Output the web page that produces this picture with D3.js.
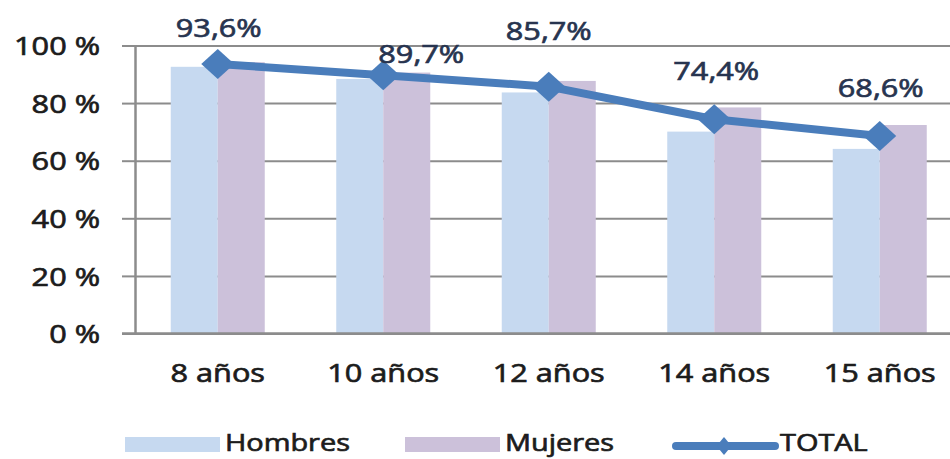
<!DOCTYPE html>
<html>
<head>
<meta charset="utf-8">
<script src="https://cdn.jsdelivr.net/npm/d3@7"></script>
<style>
  html, body { margin: 0; padding: 0; background: #fff; }
  svg { display: block; }
  text { font-family: "Open Sans", "DejaVu Sans", sans-serif; font-weight: 400; stroke-width: 0.7px; }
</style>
</head>
<body>
<svg id="chart" width="950" height="459"></svg>
<script>
// Percentage by age group
const categories = ["8 años", "10 años", "12 años", "14 años", "15 años"];
const hombres = [92.6, 88.4, 83.7, 70.1, 64.1];
const mujeres = [94.2, 90.6, 87.7, 78.5, 72.4];
const total = [93.6, 89.7, 85.7, 74.4, 68.6];
const yTicks = [0, 20, 40, 60, 80, 100];
const seriesNames = ["Hombres", "Mujeres", "TOTAL"];

// Layout
const W = 950, H = 459;
const plot = { left: 135, right: 962.5, top: 45.5, bottom: 333.5 };
const colors = { Hombres: "#c6d9f0", Mujeres: "#ccc1da", TOTAL: "#4a7dbb" };
const gridColor = "#8c8c8c";
const textColor = "#1c1c1c";
const labelColor = "#27344f";
const stretch = 1.18;              // horizontal widening of all text
// Data-label nudges (dx, dy of baseline) relative to each point
const labelNudge = [[1, -27], [38, -12], [0, -47], [2, -39], [1, -39]];

const svg = d3.select("#chart");

const x = d3.scaleBand().domain(categories)
  .range([plot.left, plot.right]).paddingInner(0.432).paddingOuter(0.216);
const xs = d3.scaleBand().domain(["Hombres", "Mujeres"]).range([0, x.bandwidth()]);
const y = d3.scaleLinear().domain([0, 100]).range([plot.bottom, plot.top]);

// Gridlines
const grid = svg.append("g")
  .attr("transform", `translate(${plot.left},0)`)
  .call(d3.axisLeft(y).tickValues(yTicks).tickSize(-(plot.right - plot.left)).tickFormat(""));
grid.select(".domain").remove();
grid.selectAll("line").attr("stroke", gridColor).attr("stroke-width", 2);

// Bars
const rows = categories.map((c, i) => ({ c, Hombres: hombres[i], Mujeres: mujeres[i] }));
const groups = svg.append("g").selectAll("g").data(rows).join("g")
  .attr("transform", d => `translate(${x(d.c)},0)`);
groups.selectAll("rect")
  .data(d => ["Hombres", "Mujeres"].map(k => ({ k, v: d[k] })))
  .join("rect")
  .attr("x", d => xs(d.k))
  .attr("width", xs.bandwidth())
  .attr("y", d => y(d.v))
  .attr("height", d => y(0) - y(d.v))
  .attr("fill", d => colors[d.k]);

// Y axis with ticks and labels
const yAxis = svg.append("g")
  .attr("transform", `translate(${plot.left},0)`)
  .call(d3.axisLeft(y).tickValues(yTicks).tickSize(13).tickSizeOuter(0).tickFormat(d => d + " %"));
yAxis.attr("font-size", null).attr("font-family", null);
yAxis.select(".domain").attr("stroke", gridColor).attr("stroke-width", 2.5);
yAxis.selectAll(".tick line").attr("stroke", gridColor).attr("stroke-width", 2);
yAxis.selectAll(".tick text")
  .attr("x", 0).attr("dy", "0.35em")
  .attr("transform", "translate(-35,0) scale(" + stretch + ",1)")
  .attr("font-size", 26).attr("fill", textColor).attr("stroke", textColor);

// Baseline over bars
svg.append("line")
  .attr("x1", plot.left - 13).attr("x2", plot.right)
  .attr("y1", y(0)).attr("y2", y(0))
  .attr("stroke", gridColor).attr("stroke-width", 2.5);

// Category axis
const xAxis = svg.append("g")
  .attr("transform", `translate(0,${plot.bottom})`)
  .call(d3.axisBottom(x).tickSize(0));
xAxis.attr("font-size", null).attr("font-family", null);
xAxis.select(".domain").remove();
xAxis.selectAll(".tick text")
  .attr("y", 0).attr("dy", 0)
  .attr("transform", "translate(0,48.5) scale(" + stretch + ",1)")
  .attr("font-size", 26).attr("fill", textColor).attr("stroke", textColor);

// TOTAL line
const cx = (i) => x(categories[i]) + x.bandwidth() / 2;
const line = d3.line().x((d, i) => cx(i)).y(d => y(d));
svg.append("path")
  .datum(total)
  .attr("d", line)
  .attr("fill", "none")
  .attr("stroke", colors.TOTAL)
  .attr("stroke-width", 8)
  .attr("stroke-linejoin", "round");

const diamond = (hw, hh) => `M0,${-hh}L${hw},0L0,${hh}L${-hw},0Z`;
svg.append("g").selectAll("path").data(total).join("path")
  .attr("transform", (d, i) => `translate(${cx(i)},${y(d)})`)
  .attr("d", diamond(16.5, 15))
  .attr("fill", colors.TOTAL);

// Value labels
const fmt = v => v.toFixed(1).replace(".", ",") + "%";
svg.append("g").selectAll("text").data(total).join("text")
  .attr("transform", (d, i) =>
    `translate(${cx(i) + labelNudge[i][0]},${y(d) + labelNudge[i][1]}) scale(${stretch},1)`)
  .attr("text-anchor", "middle")
  .attr("font-size", 26)
  .attr("fill", labelColor).attr("stroke", labelColor)
  .text(fmt);

// Legend
const legendY = 451;
const legend = svg.append("g");
const items = [
  { name: "Hombres", x: 125 },
  { name: "Mujeres", x: 405 },
  { name: "TOTAL", x: 676 }
];
items.forEach(it => {
  const g = legend.append("g");
  if (it.name === "TOTAL") {
    g.append("line")
      .attr("x1", it.x).attr("x2", it.x + 99)
      .attr("y1", 446).attr("y2", 446)
      .attr("stroke", colors.TOTAL).attr("stroke-width", 8)
      .attr("stroke-linecap", "round");
    g.append("path")
      .attr("transform", `translate(${it.x + 48},446)`)
      .attr("d", diamond(7.5, 9))
      .attr("fill", colors.TOTAL);
  } else {
    g.append("rect")
      .attr("x", it.x).attr("y", 437)
      .attr("width", 95).attr("height", 15)
      .attr("fill", colors[it.name]);
  }
  g.append("text")
    .attr("transform", `translate(${it.x + (it.name === "TOTAL" ? 104 : 100)},${legendY}) scale(${stretch},1)`)
    .attr("font-size", 24.5)
    .attr("fill", textColor).attr("stroke", textColor)
    .text(it.name);
});
</script>
</body>
</html>
